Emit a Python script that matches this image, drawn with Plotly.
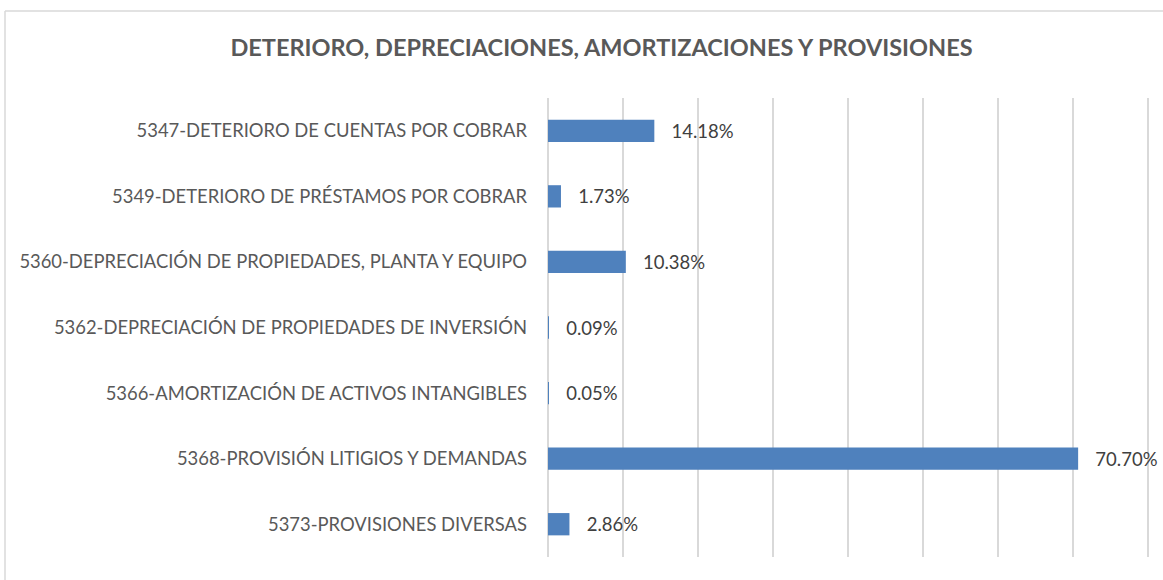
import plotly.graph_objects as go

categories = [
    "5347-DETERIORO DE CUENTAS POR COBRAR",
    "5349-DETERIORO DE PRÉSTAMOS POR COBRAR",
    "5360-DEPRECIACIÓN DE PROPIEDADES, PLANTA Y EQUIPO",
    "5362-DEPRECIACIÓN DE PROPIEDADES DE INVERSIÓN",
    "5366-AMORTIZACIÓN DE ACTIVOS INTANGIBLES",
    "5368-PROVISIÓN LITIGIOS Y DEMANDAS",
    "5373-PROVISIONES DIVERSAS",
]
values = [14.18, 1.73, 10.38, 0.09, 0.05, 70.70, 2.86]
title_text = "DETERIORO, DEPRECIACIONES, AMORTIZACIONES Y PROVISIONES"

W, H = 1163, 580
L, R, T, B = 548, 14, 98, 23
pw, ph = W - L - R, H - T - B
FONT = "Lato, Open Sans, sans-serif"

fig = go.Figure(go.Bar(
    x=values, y=categories, orientation="h",
    marker=dict(color="#4f81bd", line=dict(width=0)),
    texttemplate="\u00a0\u00a0\u00a0%{x:.2f}%", textposition="outside",
    textfont=dict(family=FONT, size=18.5, color="#404040"),
    cliponaxis=False, width=0.34,
))

top_y = (ph + T - 11) / ph
left_x = (5 - L) / pw

fig.update_layout(
    width=W, height=H,
    margin=dict(l=L, r=R, t=T, b=B, pad=0),
    paper_bgcolor="white", plot_bgcolor="white",
    showlegend=False,
    title=dict(text="<b>" + title_text + "</b>", x=601.5 / W, xanchor="center",
               y=1 - 48 / H, yanchor="middle",
               font=dict(family=FONT, size=23.5, color="#595959")),
    xaxis=dict(range=[0, 80.15], dtick=10, showticklabels=False, showgrid=True,
               gridcolor="#d9d9d9", gridwidth=1.5, zeroline=True,
               zerolinecolor="#d9d9d9", zerolinewidth=1.5, showline=False, ticks=""),
    yaxis=dict(autorange="reversed", showgrid=False, ticks="", ticklen=0,
               tickfont=dict(family=FONT, size=18.4, color="#595959"),
               ticklabelstandoff=20),
    shapes=[
        dict(type="line", xref="paper", yref="paper",
             x0=left_x, x1=left_x, y0=-0.2, y1=top_y,
             line=dict(color="#d9d9d9", width=1.5)),
        dict(type="line", xref="paper", yref="paper",
             x0=left_x, x1=1.2, y0=top_y, y1=top_y,
             line=dict(color="#d9d9d9", width=1.5)),
    ],
)

fig.write_html("out.html", config={"displayModeBar": False},
               post_script="document.body.style.margin='0';")
